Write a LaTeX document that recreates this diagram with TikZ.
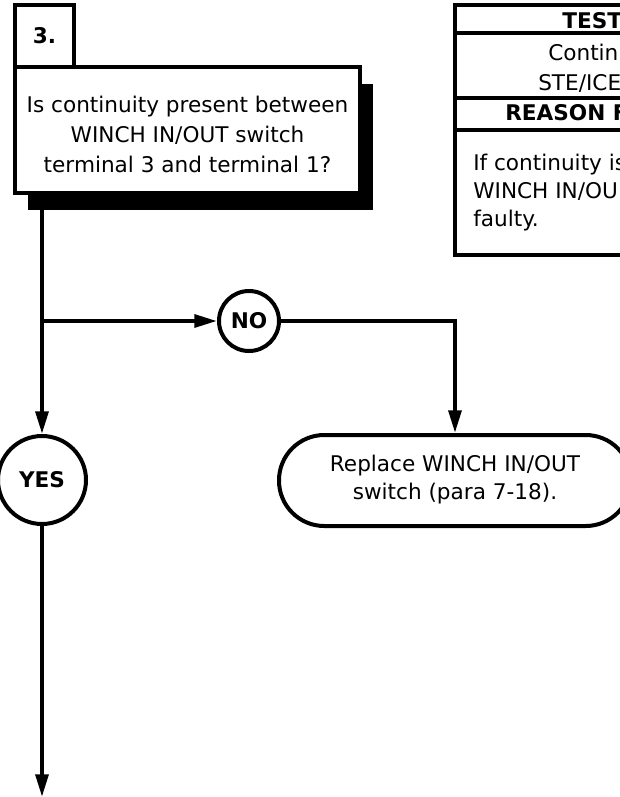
\documentclass[tikz,border=0pt]{standalone}
\usepackage{fontspec}
\setmainfont{DejaVu Sans}
\usetikzlibrary{arrows.meta,shadows}

\tikzset{
  flowline/.style={line width=3pt},
  flowarrow/.style={line width=3pt,-{Triangle[length=17pt,width=9.5pt]}},
  plaintxt/.style={font=\fontsize{16.2}{22.5}\selectfont},
  boldtxt/.style={font=\fontsize{16.2}{22}\selectfont\bfseries},
  numbox/.style={draw,line width=3pt,minimum width=44.25pt,minimum height=46.5pt,inner sep=0pt,boldtxt},
  askbox/.style={draw,line width=3pt,fill=white,minimum width=258.75pt,minimum height=94.5pt,
    align=center,plaintxt,
    drop shadow={shadow xshift=9.75pt,shadow yshift=-12.75pt,fill=black,opacity=1}},
  answer/.style={circle,draw,line width=3pt,fill=white,inner sep=0pt,boldtxt},
  endbox/.style={draw,line width=3pt,rounded corners=34pt,minimum width=264pt,
    minimum height=68.25pt,align=center,font=\fontsize{16.2}{20.5}\selectfont},
  tabhead/.style={anchor=base west,inner sep=0pt,boldtxt},
  tabtxt/.style={anchor=base west,inner sep=0pt,plaintxt}
}

\begin{document}
\begin{tikzpicture}[x=0.75pt,y=-0.75pt]
\useasboundingbox (0,0) rectangle (620,797);
\clip (0,0) rectangle (620,797);
\node[numbox] (num) at (44.5,36) {3.};
\node[askbox] (ask) at (187.5,130) {\rule{0pt}{18.3pt}Is continuity present between\\WINCH IN/OUT switch\\terminal 3 and terminal 1?};
\node[answer,minimum size=45pt] (no) at (249,321) {NO};
\node[answer,minimum size=66pt] (yes) at (42,480) {YES};
\node[endbox] (fix) at (455,480.5) {Replace WINCH IN/OUT\\switch (para 7-18).\rule[-5pt]{0pt}{0pt}};
\coordinate (split) at (42,321);
\coordinate (exit) at (42,797);
\draw[flowline] (ask.south -| split) -- (split);
\draw[flowarrow] (split) -- (no);
\draw[flowarrow] (split) -- (yes);
\draw[flowarrow] (no) -| (fix);
\draw[flowarrow] (yes) -- (exit);
% test table
\draw[flowline] (455,5) rectangle (640,255);
\foreach \y in {33,98,130}
  \draw[flowline] (455,\y) -- (640,\y);
\node[tabhead] (testhead) at (562,28) {TEST};
\node[tabtxt] (test1) at (548,60) {Continu};
\node[tabtxt] (test2) at (538,90) {STE/ICE};
\node[tabhead] (reasonhead) at (505,120) {REASON F};
\node[tabtxt] (reason1) at (473,170) {If continuity is};
\node[tabtxt] (reason2) at (473,198) {WINCH IN/OU};
\node[tabtxt] (reason3) at (473,226) {faulty.};
\end{tikzpicture}
\end{document}
